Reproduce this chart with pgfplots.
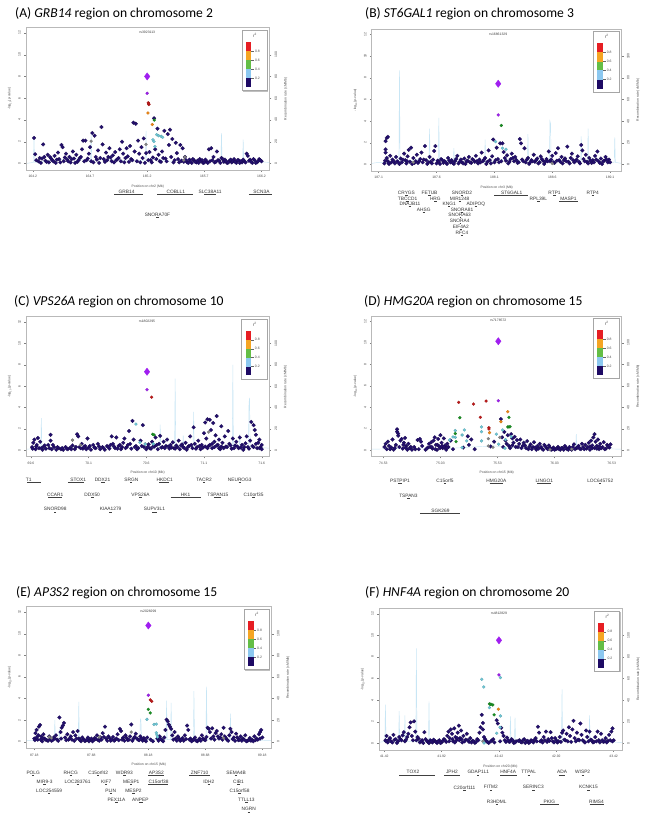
\documentclass[border=0pt]{standalone}
\usepackage{fontspec}
\setmainfont{Carlito}
\newfontfamily\lzfont{Liberation Sans}
\usepackage{pgfplots}
\pgfplotsset{compat=1.18}

\definecolor{lznavy}{RGB}{35,15,110}
\definecolor{lzred}{RGB}{190,25,25}
\definecolor{lzorange}{RGB}{240,135,20}
\definecolor{lzgreen}{RGB}{25,145,35}
\definecolor{lzlblue}{RGB}{110,200,215}
\definecolor{lzpurple}{RGB}{160,30,240}
\definecolor{lzgray}{RGB}{135,135,135}
\definecolor{recline}{RGB}{200,230,245}
\definecolor{lzframe}{RGB}{185,185,185}
\definecolor{kred}{RGB}{230,30,35}
\definecolor{korange}{RGB}{245,165,35}
\definecolor{kgreen}{RGB}{100,190,70}
\definecolor{kblue}{RGB}{140,200,240}
\definecolor{knavy}{RGB}{30,10,100}

\newcommand{\tf}{\lzfont\fontsize{3.4}{4}\selectfont}
\newcommand{\gf}{\lzfont\fontsize{4.8}{5.5}\selectfont}
\newcommand{\ttl}{\fontsize{13.6}{15}\selectfont}

\pgfplotsset{
  lzmain/.style={scale only axis, anchor=south west, clip=false,
    ymin=-0.6, ymax=12.5, ytick={0,2,4,6,8,10,12},
    axis line style={lzframe, line width=0.6pt},
    tick align=outside, major tick length=1.8pt,
    every tick/.style={black!50, line width=0.3pt},
    ticklabel style={font=\tf, text=black!70},
    yticklabel style={rotate=90, anchor=south},
    xtick pos=bottom, ytick pos=left,
    /pgf/number format/assume math mode=true,
    ylabel={-log\textsubscript{10}(\textit{p}-value)},
    ylabel style={font=\tf, text=black!70},
    xlabel style={font=\tf, text=black!70}},
  lzrec/.style={scale only axis, anchor=south west,
    ymin=-6, ymax=125, ytick={0,20,40,60,80,100},
    axis x line=none, axis y line*=right,
    axis line style={lzframe, line width=0.6pt},
    tick align=outside, major tick length=1.8pt,
    every tick/.style={black!50, line width=0.3pt},
    ticklabel style={font=\tf, text=black!70},
    yticklabel style={rotate=90, anchor=north},
    /pgf/number format/assume math mode=true,
    ylabel={Recombination rate (cM/Mb)},
    ylabel style={font=\tf, text=black!70}},
  navy/.style={only marks, mark=*, mark size=1.9pt, mark options={fill=lznavy, draw=lznavy!70!black, line width=0.2pt}},
  hl/.style={only marks, mark=*, mark size=1.5pt, mark options={fill=#1, draw=#1!80!black, line width=0.2pt}},
  lead/.style={only marks, mark=diamond*, mark size=3.6pt, mark options={fill=lzpurple, draw=lzpurple}},
  recl/.style={recline, line width=0.45pt, mark=none},
}

% gene: x1, x2, label x, name, depth of label below the box (pt)
\newcommand{\gene}[5]{%
  \draw[black!75, line width=0.7pt] ([yshift={-(#5pt+2.8pt)}]axis cs:#1,-0.6) -- ([yshift={-(#5pt+2.8pt)}]axis cs:#2,-0.6);
  \node[font=\gf, text=black!80, inner sep=0pt] at ([yshift={-#5pt}]axis cs:#3,-0.6) {#4};}

\newcommand{\rlab}[2]{%
  \draw[black!60, line width=0.3pt] (rel axis cs:0.926,#1) -- (rel axis cs:0.936,#1);
  \node[font=\tf, text=black!70, anchor=west, inner sep=0.5pt] at (rel axis cs:0.938,#1) {#2};}

% r^2 key in the upper right corner
\newcommand{\rkey}{%
  \fill[black!25] ([xshift=1pt,yshift=-1pt]rel axis cs:0.887,0.556) rectangle ([xshift=1pt,yshift=-1pt]rel axis cs:0.99,0.981);
  \draw[black!35, line width=0.7pt, fill=white] (rel axis cs:0.887,0.556) rectangle (rel axis cs:0.99,0.981);
  \fill[kred] (rel axis cs:0.903,0.835) rectangle (rel axis cs:0.926,0.899);
  \fill[korange] (rel axis cs:0.903,0.771) rectangle (rel axis cs:0.926,0.835);
  \fill[kgreen] (rel axis cs:0.903,0.708) rectangle (rel axis cs:0.926,0.771);
  \fill[kblue] (rel axis cs:0.903,0.644) rectangle (rel axis cs:0.926,0.708);
  \fill[knavy] (rel axis cs:0.903,0.580) rectangle (rel axis cs:0.926,0.644);
  \rlab{0.835}{0.8}\rlab{0.771}{0.6}\rlab{0.708}{0.4}\rlab{0.644}{0.2}
  \node[font=\lzfont\fontsize{4.5}{5}\selectfont, text=black!70] at (rel axis cs:0.94,0.945) {r\textsuperscript{2}};}

\begin{document}
\begin{tikzpicture}
\path[use as bounding box, fill=white] (0pt,0pt) rectangle (649pt,819pt);

% titles
\node[anchor=west, inner sep=0pt] at (15pt,805pt) {\ttl (A) \textit{GRB14} region on chromosome 2};
\node[anchor=west, inner sep=0pt] at (365pt,805.7pt) {\ttl (B) \textit{ST6GAL1} region on chromosome 3};
\node[anchor=west, inner sep=0pt] at (14pt,517.3pt) {\ttl (C) \textit{VPS26A} region on chromosome 10};
\node[anchor=west, inner sep=0pt] at (364pt,517.3pt) {\ttl (D) \textit{HMG20A} region on chromosome 15};
\node[anchor=west, inner sep=0pt] at (16pt,226.3pt) {\ttl (E) \textit{AP3S2} region on chromosome 15};
\node[anchor=west, inner sep=0pt] at (365pt,226.3pt) {\ttl (F) \textit{HNF4A} region on chromosome 20};

%%%%%%%%%%%%%%%% (A)
\begin{axis}[lzrec, at={(26pt,649pt)}, width=243.5pt, height=142.5pt, xmin=164.14, xmax=166.27]
\addplot[recl] coordinates {(164.14,0)(164.205,1)(164.21,24)(164.215,1)(164.40,3)(164.55,5)(164.705,2)(164.71,29)(164.715,3)(164.90,4)(165.05,2)(165.185,3)(165.19,30)(165.195,5)(165.40,2)(165.55,4)(165.65,2)(165.845,3)(165.85,28)(165.855,2)(166.00,3)(166.035,2)(166.04,22)(166.045,2)(166.27,1)};
\end{axis}
\begin{axis}[lzmain, at={(26pt,649pt)}, width=243.5pt, height=142.5pt, xmin=164.14, xmax=166.27,
  xtick={164.2,164.7,165.2,165.7,166.2}, xticklabels={164.2,164.7,165.2,165.7,166.2},
  xlabel={Position on chr2 (Mb)}]
\addplot[navy] coordinates {(164.21,2.35)(164.22,0.85)(164.25,0.2)(164.26,0.5)(164.27,0.05)(164.29,1.75)(164.30,0.6)(164.31,0.25)(164.33,0.8)(164.34,0.1)(164.36,0.45)(164.37,0.3)(164.39,0.7)(164.40,0.05)(164.42,1.0)(164.43,0.4)(164.45,1.7)(164.46,1.5)(164.47,0.2)(164.49,0.9)(164.50,0.35)(164.52,0.6)(164.53,0.1)(164.55,1.1)(164.56,0.45)(164.58,0.8)(164.59,0.15)(164.61,0.5)(164.63,1.3)(164.64,2.1)(164.66,2.1)(164.67,0.3)(164.69,0.9)(164.70,1.5)(164.71,0.2)(164.72,2.8)(164.74,2.55)(164.75,0.6)(164.77,1.2)(164.78,0.05)(164.80,3.35)(164.81,1.75)(164.82,0.4)(164.84,1.0)(164.86,0.6)(164.87,1.4)(164.89,0.2)(164.90,0.75)(164.92,1.05)(164.93,0.3)(164.95,0.5)(164.96,1.3)(164.98,2.0)(164.99,0.9)(165.00,0.1)(165.02,1.4)(165.03,0.65)(165.05,1.6)(165.06,0.4)(165.08,3.75)(165.09,1.1)(165.10,3.65)(165.11,0.2)(165.12,2.1)(165.13,0.9)(165.15,1.5)(165.16,0.5)(165.17,2.3)(165.18,0.05)(165.19,0.95)(165.22,1.05)(165.23,0.3)(165.25,0.55)(165.26,4.15)(165.27,1.3)(165.29,3.2)(165.30,0.8)(165.31,0.2)(165.33,1.1)(165.35,3.0)(165.36,0.45)(165.38,2.7)(165.39,1.7)(165.40,3.1)(165.41,0.6)(165.42,2.25)(165.43,0.1)(165.45,1.9)(165.46,0.95)(165.47,0.4)(165.49,1.7)(165.50,0.25)(165.51,1.4)(165.53,0.6)(165.55,0.1)(165.57,0.35)(165.59,0.05)(165.61,0.3)(165.63,0.1)(165.66,0.4)(165.69,0.05)(165.72,0.2)(165.74,1.3)(165.76,1.4)(165.78,0.6)(165.79,0.1)(165.81,1.1)(165.82,0.3)(165.84,0.05)(165.85,0.5)(165.87,0.15)(165.88,0.35)(165.90,0.05)(165.92,0.25)(165.94,0.1)(165.96,0.4)(165.98,0.05)(166.00,0.3)(166.03,0.1)(166.05,0.2)(166.07,0.9)(166.08,0.7)(166.10,0.35)(166.12,0.05)(166.14,0.3)(166.16,0.1)(166.18,0.4)(166.20,0.2)};
\addplot[navy] coordinates {(164.23,0.3)(164.28,0.45)(164.32,0.15)(164.35,0.6)(164.38,0.2)(164.41,0.35)(164.44,0.1)(164.48,0.55)(164.51,0.2)(164.54,0.4)(164.57,0.05)(164.60,0.3)(164.62,0.6)(164.65,0.2)(164.68,0.45)(164.73,0.1)(164.76,0.35)(164.79,0.5)(164.83,0.15)(164.85,0.3)(164.88,0.55)(164.91,0.1)(164.94,0.4)(164.97,0.2)(165.01,0.5)(165.04,0.15)(165.07,0.3)(165.14,0.1)(165.21,0.3)(165.24,0.1)(165.28,0.4)(165.32,0.15)(165.34,0.5)(165.37,0.2)(165.44,0.3)(165.48,0.1)(165.52,0.15)(165.54,0.3)(165.56,0.05)(165.58,0.2)(165.60,0.4)(165.62,0.15)(165.64,0.25)(165.65,0.05)(165.67,0.2)(165.68,0.3)(165.70,0.1)(165.71,0.35)(165.73,0.05)(165.75,0.2)(165.77,0.3)(165.80,0.15)(165.83,0.25)(165.86,0.4)(165.89,0.2)(165.91,0.1)(165.93,0.35)(165.95,0.2)(165.97,0.15)(165.99,0.3)(166.01,0.05)(166.02,0.2)(166.04,0.35)(166.06,0.1)(166.09,0.25)(166.11,0.15)(166.13,0.4)(166.15,0.05)(166.17,0.2)(166.19,0.3)};
\addplot[hl=lzgray] coordinates {(165.19,1.75)(164.71,2.05)(165.52,0.3)(165.53,0.6)};
\addplot[hl=lzlblue] coordinates {(165.283,2.65)(165.30,2.55)(165.323,2.49)(165.335,2.40)(165.25,2.18)(165.259,2.02)(165.268,1.56)};
\addplot[hl=lzgreen] coordinates {(165.262,3.99)};
\addplot[hl=lzorange] coordinates {(165.207,4.64)(165.245,3.58)};
\addplot[hl=lzred] coordinates {(165.21,5.58)(165.215,5.42)(165.212,5.5)};
\addplot[hl=lzpurple] coordinates {(165.2,6.45)};
\addplot[lead] coordinates {(165.2,8.0)};
\node[font=\tf, text=black!75] at (axis cs:165.2,12.05) {rs3923113};
\rkey
\gene{164.91}{165.16}{165.02}{GRB14}{22}
\gene{165.29}{165.60}{165.45}{COBLL1}{22}
\gene{165.70}{165.80}{165.75}{SLC38A11}{22}
\gene{166.09}{166.29}{166.20}{SCN3A}{22}
\gene{165.28}{165.30}{165.29}{SNORA70F}{45}
\end{axis}

%%%%%%%%%%%%%%%% (B)
\begin{axis}[lzrec, at={(371.7pt,648pt)}, width=250pt, height=142pt, xmin=187.04, xmax=189.20]
\addplot[recl] coordinates {(187.04,1)(187.1,2)(187.275,2)(187.28,87)(187.285,2)(187.45,5)(187.535,3)(187.54,33)(187.545,3)(187.615,4)(187.62,43)(187.625,4)(187.745,3)(187.75,15)(187.755,3)(188.015,2)(188.02,23)(188.025,2)(188.2,5)(188.385,3)(188.39,28)(188.395,3)(188.575,4)(188.58,40)(188.585,38)(188.59,4)(188.845,3)(188.85,26)(188.855,3)(188.905,3)(188.91,33)(188.915,3)(189.135,2)(189.14,25)(189.145,2)(189.2,1)};
\end{axis}
\begin{axis}[lzmain, at={(371.7pt,648pt)}, width=250pt, height=142pt, xmin=187.04, xmax=189.20,
  xtick={187.1,187.6,188.1,188.6,189.1}, xticklabels={187.1,187.6,188.1,188.6,189.1},
  xlabel={Position on chr3 (Mb)}]
\addplot[navy] coordinates {(187.15,0.1)(187.16,2.15)(187.16,1.4)(187.16,1.1)(187.17,0.6)(187.17,2.45)(187.18,2.55)(187.18,0.3)(187.19,0.05)(187.20,0.8)(187.21,0.2)(187.22,0.45)(187.24,0.1)(187.25,0.7)(187.26,0.3)(187.28,0.05)(187.29,0.55)(187.30,0.2)(187.32,1.0)(187.33,0.4)(187.34,0.1)(187.35,0.75)(187.36,1.35)(187.37,0.25)(187.38,1.55)(187.39,0.05)(187.40,0.6)(187.42,0.3)(187.43,0.9)(187.44,0.15)(187.46,0.5)(187.47,1.1)(187.48,0.2)(187.50,1.7)(187.51,0.4)(187.52,0.05)(187.54,0.7)(187.55,0.25)(187.57,0.45)(187.58,1.25)(187.59,1.7)(187.60,0.1)(187.61,0.35)(187.63,0.05)(187.64,0.5)(187.66,0.15)(187.67,0.3)(187.69,0.05)(187.70,0.6)(187.72,0.2)(187.73,0.4)(187.75,0.05)(187.76,0.3)(187.78,0.8)(187.79,0.1)(187.81,0.45)(187.82,0.2)(187.84,0.55)(187.85,0.05)(187.87,0.35)(187.88,0.7)(187.90,0.15)(187.91,0.5)(187.93,0.25)(187.94,0.8)(187.96,0.1)(187.97,0.45)(187.99,1.1)(188.00,0.3)(188.02,0.6)(188.03,0.05)(188.05,1.3)(188.06,0.4)(188.08,0.75)(188.09,2.3)(188.10,0.2)(188.12,1.55)(188.13,0.5)(188.15,1.95)(188.16,0.3)(188.17,1.95)(188.18,1.15)(188.19,0.6)(188.21,0.85)(188.22,0.1)(188.24,0.5)(188.25,1.0)(188.27,0.3)(188.28,0.7)(188.30,0.15)(188.32,2.35)(188.33,1.95)(188.34,0.45)(188.36,1.5)(188.37,0.2)(188.39,0.6)(188.40,0.05)(188.42,0.4)(188.44,0.9)(188.45,0.25)(188.47,0.55)(188.48,0.1)(188.50,0.75)(188.52,0.35)(188.53,0.05)(188.55,0.5)(188.57,1.2)(188.58,0.3)(188.60,0.8)(188.62,0.15)(188.63,1.05)(188.65,1.5)(188.66,0.4)(188.68,0.7)(188.69,0.1)(188.71,0.55)(188.73,1.65)(188.74,0.25)(188.76,0.6)(188.77,1.0)(188.79,0.2)(188.81,0.45)(188.82,0.75)(188.84,0.1)(188.85,1.8)(188.86,1.3)(188.87,0.5)(188.89,0.9)(188.90,0.25)(188.92,0.6)(188.94,0.15)(188.95,0.4)(188.97,0.8)(188.99,1.2)(189.00,0.3)(189.02,0.55)(189.03,0.05)(189.05,0.35)(189.06,0.7)(189.08,0.2)(189.09,0.45)};
\addplot[navy] coordinates {(187.155,0.35)(187.185,0.15)(187.23,0.3)(187.27,0.2)(187.31,0.45)(187.345,0.3)(187.41,0.15)(187.45,0.3)(187.49,0.45)(187.53,0.2)(187.56,0.1)(187.62,0.25)(187.65,0.4)(187.68,0.2)(187.71,0.35)(187.74,0.15)(187.77,0.5)(187.80,0.25)(187.83,0.1)(187.86,0.3)(187.89,0.2)(187.92,0.4)(187.95,0.3)(187.98,0.2)(188.01,0.45)(188.04,0.25)(188.07,0.1)(188.11,0.4)(188.14,0.2)(188.20,0.35)(188.23,0.25)(188.26,0.6)(188.29,0.4)(188.31,0.2)(188.35,0.3)(188.38,0.45)(188.41,0.2)(188.43,0.3)(188.46,0.4)(188.49,0.2)(188.51,0.5)(188.54,0.25)(188.56,0.3)(188.59,0.45)(188.61,0.2)(188.64,0.35)(188.67,0.25)(188.70,0.4)(188.72,0.3)(188.75,0.1)(188.78,0.4)(188.80,0.3)(188.83,0.25)(188.88,0.3)(188.91,0.1)(188.93,0.35)(188.96,0.2)(188.98,0.45)(189.01,0.15)(189.04,0.3)(189.07,0.45)(189.10,0.2)};
\addplot[hl=lzgray] coordinates {(187.4,0.2)(188.6,0.1)};
\addplot[hl=lzlblue] coordinates {(188.11,2.11)(188.17,1.5)(188.2,1.4)};
\addplot[hl=lzgreen] coordinates {(188.16,3.6)};
\addplot[hl=lzpurple] coordinates {(188.133,4.57)};
\addplot[lead] coordinates {(188.133,7.45)};
\node[font=\tf, text=black!75] at (axis cs:188.133,12.05) {rs16861329};
\rkey
\gene{187.33}{187.35}{187.34}{CRYGS}{21.5}
\gene{187.53}{187.55}{187.54}{FETUB}{21.5}
\gene{187.81}{187.83}{187.82}{SNORD2}{21.5}
\gene{188.10}{188.39}{188.25}{ST6GAL1}{21.5}
\gene{188.61}{188.63}{188.62}{RTP1}{21.5}
\gene{188.94}{188.96}{188.95}{RTP4}{21.5}
\gene{187.34}{187.36}{187.35}{TBCCD1}{27.5}
\gene{187.58}{187.60}{187.59}{HRG}{27.5}
\gene{187.79}{187.81}{187.80}{MIR1248}{27.5}
\gene{188.47}{188.49}{188.48}{RPL39L}{27.5}
\gene{188.66}{188.82}{188.74}{MASP1}{27.5}
\gene{187.36}{187.38}{187.37}{DNAJB11}{33}
\gene{187.70}{187.72}{187.71}{KNG1}{33}
\gene{187.93}{187.95}{187.94}{ADIPOQ}{33}
\gene{187.48}{187.50}{187.49}{AHSG}{38.5}
\gene{187.81}{187.83}{187.82}{SNORA81}{38.5}
\gene{187.80}{187.81}{187.80}{SNORA63}{44}
\gene{187.80}{187.81}{187.80}{SNORA4}{50}
\gene{187.80}{187.82}{187.81}{EIF4A2}{56}
\gene{187.81}{187.83}{187.82}{RFC4}{61.5}
\end{axis}

%%%%%%%%%%%%%%%% (C)
\begin{axis}[lzrec, at={(26pt,362.3pt)}, width=243.3pt, height=140pt, xmin=69.557, xmax=71.666]
\addplot[recl] coordinates {(69.56,1)(69.685,2)(69.69,30)(69.695,2)(70.2,3)(70.715,2)(70.72,24)(70.725,3)(70.845,3)(70.85,67)(70.855,3)(70.915,3)(70.92,14)(70.925,3)(71.005,3)(71.01,36)(71.015,3)(71.2,4)(71.345,3)(71.35,80)(71.355,3)(71.405,3)(71.41,15)(71.415,3)(71.485,3)(71.49,44)(71.495,49)(71.5,3)(71.666,2)};
\end{axis}
\begin{axis}[lzmain, at={(26pt,362.3pt)}, width=243.3pt, height=140pt, xmin=69.557, xmax=71.666,
  xtick={69.6,70.1,70.6,71.1,71.6}, xticklabels={69.6,70.1,70.6,71.1,71.6},
  xlabel={Position on chr10 (Mb)}]
\addplot[navy] coordinates {(69.61,0.3)(69.62,0.7)(69.63,1.0)(69.64,0.1)(69.65,0.5)(69.66,1.15)(69.67,0.2)(69.68,0.8)(69.70,0.05)(69.71,0.35)(69.73,0.15)(69.75,0.5)(69.77,1.45)(69.77,0.9)(69.78,0.1)(69.80,0.3)(69.82,0.05)(69.84,0.2)(69.86,0.1)(69.88,0.05)(69.90,0.3)(69.92,0.1)(69.94,0.25)(69.96,0.45)(69.98,0.1)(70.00,1.5)(70.01,1.3)(70.02,0.3)(70.04,0.6)(70.05,0.15)(70.07,0.4)(70.09,1.1)(70.10,0.25)(70.12,0.05)(70.14,0.5)(70.16,0.2)(70.18,0.6)(70.20,0.1)(70.22,0.3)(70.24,0.05)(70.26,0.4)(70.28,0.15)(70.30,1.3)(70.31,0.6)(70.33,0.2)(70.34,1.2)(70.36,0.4)(70.38,0.1)(70.40,0.7)(70.41,1.1)(70.43,0.3)(70.45,1.8)(70.46,0.6)(70.47,0.15)(70.48,2.75)(70.49,1.0)(70.51,0.4)(70.53,0.2)(70.55,0.9)(70.57,2.35)(70.58,0.3)(70.60,0.1)(70.62,0.55)(70.63,0.2)(70.65,0.8)(70.67,0.35)(70.68,1.2)(70.70,0.1)(70.71,0.6)(70.72,1.35)(70.73,0.25)(70.75,0.8)(70.77,0.4)(70.78,1.0)(70.80,0.15)(70.81,0.5)(70.83,0.75)(70.84,0.2)(70.86,0.45)(70.88,0.9)(70.89,0.1)(70.91,0.55)(70.92,0.3)(70.94,0.7)(70.95,0.05)(70.97,0.4)(70.98,1.3)(71.00,0.2)(71.01,2.15)(71.02,0.6)(71.04,0.3)(71.05,0.9)(71.07,0.1)(71.08,0.5)(71.10,1.6)(71.11,2.6)(71.12,1.1)(71.13,2.9)(71.14,0.4)(71.15,2.85)(71.16,1.9)(71.17,0.2)(71.18,2.55)(71.19,0.8)(71.20,1.4)(71.21,3.2)(71.22,0.5)(71.23,1.0)(71.24,0.1)(71.25,2.25)(71.26,0.7)(71.28,1.3)(71.29,0.35)(71.31,1.8)(71.32,0.6)(71.34,0.15)(71.35,1.1)(71.37,0.45)(71.38,0.8)(71.40,0.2)(71.41,1.2)(71.43,0.5)(71.44,0.05)(71.46,0.65)(71.47,1.3)(71.48,0.3)(71.50,0.9)(71.51,2.65)(71.52,0.4)(71.53,2.35)(71.54,1.9)(71.55,1.45)(71.56,0.2)(71.57,0.7)(71.58,1.0)(71.59,0.3)(71.60,0.5)};
\addplot[navy] coordinates {(69.615,0.15)(69.645,0.35)(69.69,0.2)(69.72,0.45)(69.76,0.2)(69.79,0.5)(69.83,0.3)(69.87,0.2)(69.91,0.15)(69.95,0.1)(69.99,0.3)(70.03,0.2)(70.06,0.3)(70.08,0.1)(70.11,0.4)(70.15,0.25)(70.19,0.35)(70.23,0.2)(70.27,0.3)(70.29,0.5)(70.32,0.35)(70.35,0.15)(70.37,0.5)(70.39,0.3)(70.42,0.2)(70.44,0.5)(70.50,0.3)(70.52,0.1)(70.56,0.4)(70.61,0.3)(70.64,0.15)(70.66,0.35)(70.69,0.5)(70.74,0.3)(70.76,0.2)(70.79,0.35)(70.82,0.25)(70.85,0.15)(70.87,0.3)(70.90,0.45)(70.93,0.2)(70.96,0.3)(70.99,0.5)(71.03,0.15)(71.06,0.4)(71.09,0.25)(71.11,0.35)(71.13,0.2)(71.15,0.5)(71.17,0.6)(71.19,0.3)(71.21,0.45)(71.23,0.2)(71.25,0.35)(71.27,0.2)(71.30,0.3)(71.33,0.45)(71.36,0.2)(71.39,0.35)(71.42,0.25)(71.45,0.3)(71.49,0.15)(71.53,0.3)(71.55,0.6)(71.58,0.2)(71.60,0.1)};
\addplot[hl=lzgray] coordinates {(69.96,0.95)(70.03,0.5)(70.59,0.6)(71.14,1.7)};
\addplot[hl=lzlblue] coordinates {(70.51,2.45)(70.545,0.74)(70.59,0.58)(70.66,0.6)};
\addplot[hl=lzgreen] coordinates {(70.655,1.5)(70.667,1.44)};
\addplot[hl=lzred] coordinates {(70.646,4.97)};
\addplot[hl=lzpurple] coordinates {(70.606,5.67)};
\addplot[lead] coordinates {(70.606,7.35)};
\node[font=\tf, text=black!75] at (axis cs:70.606,12.05) {rs1802295};
\rkey
\gene{69.57}{69.69}{69.58}{T1}{23.3}
\gene{69.92}{70.06}{70.01}{STOX1}{23.3}
\gene{70.21}{70.24}{70.22}{DDX21}{23.3}
\gene{70.46}{70.48}{70.47}{SRGN}{23.3}
\gene{70.71}{70.80}{70.76}{HKDC1}{23.3}
\gene{71.09}{71.11}{71.10}{TACR2}{23.3}
\gene{71.40}{71.42}{71.41}{NEUROG3}{23.3}
\gene{69.75}{69.87}{69.81}{CCAR1}{38.3}
\gene{70.12}{70.15}{70.13}{DDX50}{38.3}
\gene{70.54}{70.56}{70.55}{VPS26A}{38.3}
\gene{70.81}{71.07}{70.94}{HK1}{38.3}
\gene{71.19}{71.25}{71.22}{TSPAN15}{38.3}
\gene{71.52}{71.54}{71.53}{C10orf35}{38.3}
\gene{69.80}{69.82}{69.81}{SNORD98}{52.6}
\gene{70.28}{70.30}{70.29}{KIAA1279}{52.6}
\gene{70.65}{70.69}{70.67}{SUPV3L1}{52.6}
\end{axis}

%%%%%%%%%%%%%%%% (D)
\begin{axis}[lzrec, at={(371.7pt,362.3pt)}, width=250pt, height=140.7pt, xmin=74.428, xmax=76.618]
\addplot[recl] coordinates {(74.43,1)(74.9,2)(75.0,1)(75.3,3)(75.5,4)(75.7,2)(76.215,2)(76.22,15)(76.225,2)(76.618,1)};
\end{axis}
\begin{axis}[lzmain, at={(371.7pt,362.3pt)}, width=250pt, height=140.7pt, xmin=74.428, xmax=76.618,
  xtick={74.53,75.03,75.53,76.03,76.53}, xticklabels={74.53,75.03,75.53,76.03,76.53},
  xlabel={Position on chr15 (Mb)}]
\addplot[navy] coordinates {(74.54,0.3)(74.55,0.6)(74.56,0.1)(74.57,0.8)(74.58,0.4)(74.60,0.25)(74.61,1.0)(74.62,0.05)(74.64,0.5)(74.65,1.95)(74.65,1.73)(74.66,1.55)(74.66,1.35)(74.67,0.3)(74.68,0.9)(74.69,1.05)(74.70,0.15)(74.71,0.7)(74.72,1.15)(74.73,0.4)(74.74,0.05)(74.75,0.6)(74.76,0.2)(74.78,0.05)(74.80,0.3)(74.83,0.95)(74.84,0.1)(74.85,1.05)(74.86,0.8)(74.90,0.05)(74.92,0.25)(74.93,0.6)(74.94,0.3)(74.95,0.75)(74.96,0.15)(74.97,0.9)(74.98,1.2)(74.99,0.5)(75.00,0.05)(75.01,1.05)(75.02,0.35)(75.03,1.4)(75.04,0.7)(75.05,0.2)(75.06,1.1)(75.07,0.45)(75.08,0.05)(75.09,0.6)(75.10,0.3)(75.12,0.9)(75.14,0.1)(75.23,0.25)(75.27,1.3)(75.28,0.5)(75.30,1.0)(75.33,0.1)(75.47,0.35)(75.50,0.8)(75.56,2.9)(75.57,1.2)(75.59,1.7)(75.60,0.9)(75.62,1.4)(75.63,0.4)(75.65,1.5)(75.66,1.1)(75.67,0.7)(75.68,1.25)(75.69,0.3)(75.70,0.95)(75.72,0.6)(75.73,1.0)(75.74,0.2)(75.76,0.7)(75.77,0.45)(75.79,0.85)(75.80,0.1)(75.82,0.55)(75.84,0.3)(75.85,0.75)(75.87,0.05)(75.88,0.4)(75.90,0.6)(75.92,0.15)(75.94,0.5)(75.96,0.2)(75.98,0.45)(76.00,0.05)(76.02,0.25)(76.04,0.1)(76.06,0.3)(76.08,0.05)(76.10,0.2)(76.12,0.4)(76.14,0.1)(76.16,0.3)(76.18,0.05)(76.20,0.55)(76.22,0.2)(76.24,0.4)(76.26,0.1)(76.27,0.6)(76.28,0.3)(76.30,0.5)(76.31,0.15)(76.33,0.7)(76.34,0.35)(76.35,0.9)(76.36,0.2)(76.37,1.2)(76.38,1.5)(76.39,0.8)(76.40,0.4)(76.41,1.0)(76.42,0.1)(76.43,0.6)(76.45,0.3)(76.46,0.75)(76.48,0.15)(76.49,0.5)(76.51,0.25)(76.52,0.55)};
\addplot[navy] coordinates {(74.59,0.1)(74.63,0.2)(74.705,0.5)(74.725,0.25)(74.77,0.3)(74.81,0.1)(74.87,0.4)(74.91,0.15)(74.955,0.3)(74.985,0.1)(75.005,0.5)(75.025,0.2)(75.045,0.4)(75.065,0.3)(75.085,0.25)(75.58,0.3)(75.61,0.6)(75.64,0.2)(75.66,0.45)(75.71,0.3)(75.75,0.4)(75.78,0.2)(75.81,0.35)(75.83,0.1)(75.86,0.25)(75.89,0.15)(75.91,0.3)(75.93,0.05)(75.95,0.35)(75.97,0.1)(75.99,0.25)(76.01,0.1)(76.03,0.05)(76.05,0.15)(76.07,0.1)(76.09,0.2)(76.11,0.05)(76.13,0.25)(76.15,0.05)(76.17,0.15)(76.19,0.3)(76.21,0.1)(76.23,0.25)(76.25,0.15)(76.29,0.1)(76.32,0.3)(76.34,0.05)(76.36,0.45)(76.38,0.2)(76.40,0.15)(76.42,0.35)(76.44,0.2)(76.47,0.1)(76.50,0.35)};
\addplot[hl=lzgray] coordinates {(75.45,1.08)(75.45,0.4)(75.49,0.28)(75.55,1.2)(75.99,0.05)(76.18,0.1)};
\addplot[hl=lzlblue] coordinates {(75.16,1.83)(75.24,1.89)(75.39,2.17)(75.39,1.73)(75.39,0.87)(75.575,1.89)(75.65,1.27)(75.595,0.19)(75.54,0.56)(75.16,1.2)(75.22,1.42)(75.26,0.87)(75.14,1.24)(75.11,0.96)(75.22,0.25)(75.60,1.0)(75.52,1.5)};
\addplot[hl=lzgreen] coordinates {(75.2,3.03)(75.63,3.06)(75.62,2.17)(75.63,2.17)(75.64,2.2)(75.16,1.55)(75.167,0.8)};
\addplot[hl=lzorange] coordinates {(75.62,3.59)(75.56,2.66)(75.46,1.64)};
\addplot[hl=lzred] coordinates {(75.19,4.46)(75.32,4.3)(75.43,4.58)(75.38,3.07)(75.455,2.1)(75.455,1.98)};
\addplot[hl=lzpurple] coordinates {(75.537,4.61)};
\addplot[lead] coordinates {(75.537,10.15)};
\node[font=\tf, text=black!75] at (axis cs:75.537,12.05) {rs7178572};
\rkey
\gene{74.66}{74.69}{74.676}{PSTPIP1}{24}
\gene{75.06}{75.08}{75.07}{C15orf5}{24}
\gene{75.46}{75.58}{75.52}{HMG20A}{24}
\gene{75.88}{76.00}{75.94}{LINGO1}{24}
\gene{76.42}{76.44}{76.43}{LOC645752}{24}
\gene{74.74}{74.76}{74.75}{TSPAN3}{39.3}
\gene{74.85}{75.20}{75.03}{SGK269}{54}
\end{axis}

%%%%%%%%%%%%%%%% (E)
\begin{axis}[lzrec, at={(26pt,70.7pt)}, width=245.7pt, height=141.6pt, xmin=87.107, xmax=89.262]
\addplot[recl] coordinates {(87.107,1)(87.355,2)(87.36,20)(87.365,2)(87.395,2)(87.4,12)(87.405,2)(87.565,2)(87.57,37)(87.575,2)(87.8,3)(88.105,2)(88.11,21)(88.115,20)(88.12,2)(88.335,2)(88.34,38)(88.345,2)(88.375,2)(88.38,36)(88.385,2)(88.575,2)(88.58,47)(88.585,2)(88.685,2)(88.69,51)(88.695,2)(88.895,2)(88.9,26)(88.905,2)(89.262,1)};
\end{axis}
\begin{axis}[lzmain, at={(26pt,70.7pt)}, width=245.7pt, height=141.6pt, xmin=87.107, xmax=89.262,
  xtick={87.18,87.68,88.18,88.68,89.18}, xticklabels={87.18,87.68,88.18,88.68,89.18},
  xlabel={Position on chr15 (Mb)}]
\addplot[navy] coordinates {(87.18,0.3)(87.19,0.8)(87.20,1.1)(87.21,0.2)(87.22,1.4)(87.23,1.55)(87.24,0.5)(87.25,0.05)(87.26,0.7)(87.27,0.3)(87.29,0.15)(87.31,0.5)(87.33,0.1)(87.35,0.4)(87.37,0.6)(87.38,0.2)(87.40,2.25)(87.41,0.9)(87.42,1.3)(87.43,1.5)(87.44,1.75)(87.45,0.4)(87.47,0.7)(87.48,0.2)(87.50,0.5)(87.52,0.9)(87.53,0.1)(87.54,0.6)(87.56,1.0)(87.57,0.3)(87.59,0.05)(87.61,0.25)(87.63,0.1)(87.65,0.4)(87.67,0.2)(87.69,0.05)(87.71,0.35)(87.73,0.6)(87.74,0.15)(87.76,0.4)(87.78,0.8)(87.80,1.4)(87.81,0.3)(87.83,0.5)(87.85,0.1)(87.87,0.45)(87.89,0.2)(87.91,0.7)(87.93,1.2)(87.94,1.0)(87.96,0.4)(87.98,0.6)(88.00,0.15)(88.02,0.5)(88.03,1.6)(88.05,0.3)(88.07,0.75)(88.09,0.2)(88.11,0.5)(88.13,0.1)(88.14,0.35)(88.16,0.05)(88.20,0.2)(88.22,0.05)(88.26,0.3)(88.28,0.5)(88.30,0.15)(88.32,0.4)(88.33,1.1)(88.34,2.05)(88.35,1.9)(88.36,1.6)(88.37,1.4)(88.38,1.2)(88.39,0.6)(88.41,0.9)(88.42,0.3)(88.44,0.5)(88.46,0.1)(88.48,0.35)(88.50,0.6)(88.52,1.5)(88.53,1.1)(88.55,0.3)(88.57,0.15)(88.59,0.4)(88.61,0.05)(88.63,0.3)(88.65,0.6)(88.67,0.2)(88.69,0.45)(88.70,1.3)(88.71,1.2)(88.72,0.9)(88.74,1.25)(88.75,0.5)(88.77,0.8)(88.78,1.0)(88.80,0.3)(88.82,0.7)(88.84,1.3)(88.85,0.5)(88.87,0.2)(88.89,0.6)(88.90,1.2)(88.91,0.9)(88.93,0.4)(88.95,0.75)(88.97,0.15)(88.99,0.5)(89.01,0.3)(89.03,0.6)(89.05,0.1)(89.07,0.35)(89.09,0.2)(89.11,0.5)(89.13,0.3)(89.15,0.7)(89.16,0.9)(89.17,1.1)(89.18,0.4)};
\addplot[navy] coordinates {(87.185,0.15)(87.20,0.4)(87.215,0.6)(87.235,0.2)(87.255,0.35)(87.28,0.2)(87.30,0.1)(87.32,0.25)(87.34,0.15)(87.36,0.3)(87.39,0.1)(87.415,0.3)(87.46,0.15)(87.49,0.3)(87.51,0.2)(87.55,0.3)(87.58,0.15)(87.60,0.4)(87.62,0.1)(87.64,0.2)(87.66,0.05)(87.68,0.3)(87.70,0.15)(87.72,0.25)(87.75,0.1)(87.77,0.2)(87.79,0.45)(87.82,0.1)(87.84,0.35)(87.86,0.2)(87.88,0.1)(87.90,0.3)(87.92,0.15)(87.95,0.2)(87.97,0.1)(87.99,0.35)(88.01,0.2)(88.04,0.1)(88.06,0.45)(88.08,0.3)(88.10,0.15)(88.12,0.3)(88.15,0.2)(88.17,0.4)(88.27,0.1)(88.29,0.25)(88.31,0.05)(88.40,0.2)(88.43,0.1)(88.45,0.3)(88.47,0.2)(88.49,0.1)(88.51,0.25)(88.54,0.2)(88.56,0.05)(88.58,0.2)(88.60,0.1)(88.62,0.15)(88.64,0.1)(88.66,0.3)(88.68,0.15)(88.73,0.3)(88.76,0.2)(88.79,0.5)(88.81,0.4)(88.83,0.2)(88.86,0.35)(88.88,0.1)(88.92,0.25)(88.94,0.1)(88.96,0.4)(88.98,0.2)(89.00,0.1)(89.02,0.2)(89.04,0.05)(89.06,0.15)(89.08,0.1)(89.10,0.05)(89.12,0.15)(89.14,0.2)(89.16,0.3)};
\addplot[hl=lzgray] coordinates {(87.33,0.35)(87.31,0.45)(87.75,0.45)(88.03,0.9)(88.84,0.35)};
\addplot[hl=lzlblue] coordinates {(88.168,2.08)(88.23,1.61)(88.25,1.64)(88.25,0.84)(88.255,0.65)(88.26,0.45)};
\addplot[hl=lzgreen] coordinates {(88.18,3.0)(88.197,2.67)};
\addplot[hl=lzred] coordinates {(88.197,3.88)(88.21,3.75)};
\addplot[hl=lzpurple] coordinates {(88.18,4.31)};
\addplot[lead] coordinates {(88.18,10.76)};
\node[font=\tf, text=black!75] at (axis cs:88.18,12.05) {rs2028299};
\rkey
\gene{87.16}{87.18}{87.17}{POLG}{24.4}
\gene{87.49}{87.51}{87.50}{RHCG}{24.4}
\gene{87.73}{87.75}{87.74}{C15orf42}{24.4}
\gene{87.96}{87.98}{87.97}{WDR93}{24.4}
\gene{88.18}{88.32}{88.25}{AP3S2}{24.4}
\gene{88.54}{88.72}{88.63}{ZNF710}{24.4}
\gene{88.94}{88.96}{88.95}{SEMA4B}{24.4}
\gene{87.26}{87.28}{87.27}{MIR9-3}{33.4}
\gene{87.55}{87.57}{87.56}{LOC283761}{33.4}
\gene{87.80}{87.82}{87.81}{KIF7}{33.4}
\gene{88.02}{88.04}{88.03}{MESP1}{33.4}
\gene{88.18}{88.35}{88.27}{C15orf38}{33.4}
\gene{88.70}{88.72}{88.71}{IDH2}{33.4}
\gene{88.96}{88.98}{88.97}{CIB1}{33.4}
\gene{87.30}{87.32}{87.31}{LOC254559}{42.4}
\gene{87.84}{87.86}{87.85}{PLIN}{42.4}
\gene{88.04}{88.06}{88.05}{MESP2}{42.4}
\gene{88.97}{88.99}{88.98}{C15orf58}{42.4}
\gene{87.89}{87.91}{87.90}{PEX11A}{51.7}
\gene{88.10}{88.13}{88.11}{ANPEP}{51.7}
\gene{89.03}{89.05}{89.04}{TTLL13}{51.7}
\gene{89.05}{89.07}{89.06}{NGRN}{61}
\end{axis}

%%%%%%%%%%%%%%%% (F)
\begin{axis}[lzrec, at={(379pt,69pt)}, width=243pt, height=141.7pt, xmin=41.374, xmax=43.493]
\addplot[recl] coordinates {(41.374,1)(41.425,2)(41.43,36)(41.435,2)(41.545,2)(41.55,30)(41.555,2)(41.595,2)(41.6,26)(41.605,2)(41.695,2)(41.7,88)(41.705,2)(41.805,2)(41.81,39)(41.815,2)(42.1,3)(42.515,2)(42.52,25)(42.525,2)(42.555,2)(42.56,24)(42.565,2)(42.965,2)(42.97,50)(42.975,2)(43.205,2)(43.21,26)(43.215,2)(43.493,1)};
\end{axis}
\begin{axis}[lzmain, at={(379pt,69pt)}, width=243pt, height=141.7pt, xmin=41.374, xmax=43.493,
  xtick={41.42,41.92,42.42,42.92,43.42}, xticklabels={41.42,41.92,42.42,42.92,43.42},
  xlabel={Position on chr20 (Mb)}]
\addplot[navy] coordinates {(41.43,0.3)(41.44,0.7)(41.45,0.1)(41.47,0.5)(41.48,0.2)(41.50,0.8)(41.51,0.35)(41.53,0.05)(41.55,0.6)(41.56,0.4)(41.58,0.75)(41.59,1.05)(41.60,0.2)(41.62,0.6)(41.63,0.9)(41.64,1.5)(41.65,1.95)(41.66,0.7)(41.68,2.05)(41.69,1.1)(41.70,0.3)(41.71,0.6)(41.73,0.1)(41.75,0.3)(41.77,1.05)(41.78,0.4)(41.80,0.15)(41.82,0.3)(41.84,0.1)(41.86,0.25)(41.88,0.05)(41.90,0.3)(41.92,0.1)(41.94,0.4)(41.96,0.15)(41.97,0.7)(41.98,1.1)(41.99,0.5)(42.00,1.3)(42.01,0.9)(42.02,0.2)(42.03,1.4)(42.04,0.6)(42.05,0.3)(42.06,1.0)(42.07,1.65)(42.08,0.5)(42.09,1.2)(42.10,0.1)(42.11,0.7)(42.13,0.35)(42.14,0.9)(42.16,0.15)(42.17,0.5)(42.19,0.25)(42.21,0.05)(42.23,0.4)(42.25,1.0)(42.26,1.5)(42.27,2.65)(42.28,1.9)(42.28,1.3)(42.29,0.6)(42.31,0.2)(42.33,0.05)(42.36,0.3)(42.38,0.1)(42.40,2.15)(42.41,1.85)(42.44,1.45)(42.45,1.0)(42.46,0.7)(42.47,0.3)(42.49,0.55)(42.51,0.15)(42.53,0.4)(42.55,0.05)(42.57,0.2)(42.60,0.3)(42.62,0.1)(42.64,0.4)(42.66,0.2)(42.68,0.05)(42.70,0.3)(42.72,0.1)(42.74,0.5)(42.75,0.2)(42.76,1.55)(42.77,1.0)(42.79,0.3)(42.81,0.6)(42.83,1.1)(42.85,0.4)(42.87,1.05)(42.89,0.2)(42.91,0.5)(42.93,0.1)(42.95,0.6)(42.97,1.0)(42.98,1.2)(43.00,0.3)(43.01,0.9)(43.03,1.5)(43.04,0.7)(43.06,1.3)(43.07,2.1)(43.08,0.5)(43.10,1.0)(43.12,0.3)(43.13,1.85)(43.14,0.8)(43.16,0.2)(43.18,1.2)(43.19,0.6)(43.21,1.1)(43.22,0.35)(43.24,0.1)(43.26,0.6)(43.28,1.1)(43.29,0.3)(43.31,0.9)(43.33,0.15)(43.35,0.5)(43.37,0.25)(43.38,0.8)(43.40,1.1)(43.41,1.4)(43.42,0.3)};
\addplot[navy] coordinates {(41.435,0.2)(41.46,0.35)(41.49,0.1)(41.52,0.4)(41.54,0.2)(41.57,0.3)(41.61,0.35)(41.67,0.3)(41.72,0.45)(41.74,0.2)(41.76,0.05)(41.79,0.25)(41.81,0.05)(41.83,0.2)(41.85,0.35)(41.87,0.15)(41.89,0.2)(41.91,0.05)(41.93,0.25)(41.95,0.3)(41.985,0.2)(42.015,0.4)(42.035,0.1)(42.055,0.5)(42.075,0.3)(42.095,0.4)(42.12,0.2)(42.15,0.3)(42.18,0.1)(42.20,0.2)(42.22,0.15)(42.24,0.3)(42.30,0.4)(42.32,0.15)(42.35,0.2)(42.37,0.4)(42.43,0.2)(42.48,0.15)(42.50,0.3)(42.52,0.2)(42.54,0.3)(42.56,0.1)(42.59,0.25)(42.61,0.15)(42.63,0.3)(42.65,0.05)(42.67,0.25)(42.69,0.15)(42.71,0.2)(42.73,0.35)(42.78,0.2)(42.80,0.1)(42.82,0.3)(42.84,0.15)(42.86,0.25)(42.88,0.5)(42.90,0.1)(42.92,0.3)(42.94,0.2)(42.96,0.15)(42.99,0.35)(43.02,0.2)(43.05,0.15)(43.09,0.2)(43.11,0.35)(43.15,0.3)(43.17,0.1)(43.20,0.2)(43.23,0.3)(43.25,0.15)(43.27,0.2)(43.30,0.1)(43.32,0.3)(43.34,0.2)(43.36,0.1)(43.39,0.3)(43.41,0.2)};
\addplot[hl=lzgray] coordinates {(42.28,0.2)};
\addplot[hl=lzlblue] coordinates {(42.433,6.09)(42.27,5.94)(42.287,5.23)(42.337,3.32)(42.433,2.55)(42.40,0.95)(42.29,0.05)(42.43,1.5)};
\addplot[hl=lzgreen] coordinates {(42.337,3.66)(42.35,3.63)(42.366,3.57)(42.345,3.62)(42.378,2.65)};
\addplot[hl=lzorange] coordinates {(42.415,3.17)};
\addplot[hl=lzpurple] coordinates {(42.42,6.34)};
\addplot[lead] coordinates {(42.42,9.54)};
\node[font=\tf, text=black!75] at (axis cs:42.42,12.05) {rs4812829};
\rkey
\gene{41.55}{41.86}{41.67}{TOX2}{22.3}
\gene{41.94}{42.08}{42.01}{JPH2}{22.3}
\gene{42.23}{42.25}{42.24}{GDAP1L1}{22.3}
\gene{42.43}{42.58}{42.50}{HNF4A}{22.3}
\gene{42.67}{42.69}{42.68}{TTPAL}{22.3}
\gene{42.94}{43.00}{42.97}{ADA}{22.3}
\gene{43.14}{43.16}{43.15}{WISP2}{22.3}
\gene{42.11}{42.13}{42.12}{C20orf111}{37.3}
\gene{42.34}{42.36}{42.35}{FITM2}{37.3}
\gene{42.71}{42.73}{42.72}{SERINC3}{37.3}
\gene{43.19}{43.21}{43.20}{KCNK15}{37.3}
\gene{42.39}{42.41}{42.40}{R3HDML}{51.7}
\gene{42.78}{42.94}{42.86}{PKIG}{51.7}
\gene{43.21}{43.34}{43.27}{RIMS4}{51.7}
\end{axis}
\end{tikzpicture}
\end{document}
